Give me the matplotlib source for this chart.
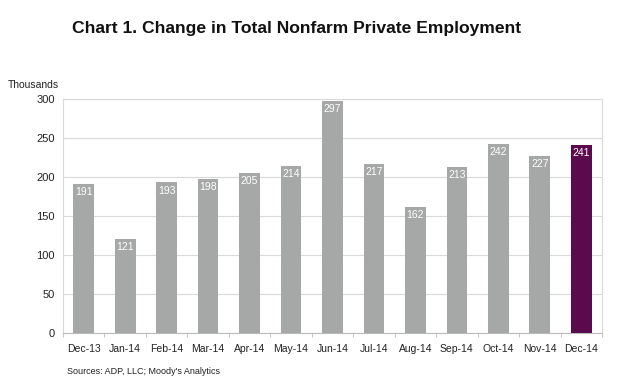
import matplotlib
matplotlib.use("Agg")
import matplotlib.pyplot as plt
import numpy as np

months = ["Dec-13", "Jan-14", "Feb-14", "Mar-14", "Apr-14", "May-14", "Jun-14",
          "Jul-14", "Aug-14", "Sep-14", "Oct-14", "Nov-14", "Dec-14"]
values = [191, 121, 193, 198, 205, 214, 297, 217, 162, 213, 242, 227, 241]
yticks = [0, 50, 100, 150, 200, 250, 300]

plt.rcParams['font.family'] = ['Liberation Sans', 'DejaVu Sans']

fig = plt.figure(figsize=(6.2, 3.88), dpi=100)
ax = fig.add_axes([63/620, 1-333/388, (602-63)/620, (333-99)/388])

colors = ['#A6A7A7'] * (len(values) - 1) + ['#5B0A4E']
x = np.arange(len(values))
bars = ax.bar(x, values, width=0.5, color=colors, zorder=3)
for xi, v in zip(x, values):
    ax.text(xi, v - 4, str(v), ha='center', va='top', color='white', fontsize=7.5, zorder=4)

ax.set_xlim(-0.5, len(values) - 0.5)
ax.set_ylim(0, 300)
ax.set_yticks(yticks)
ax.set_yticklabels([str(t) for t in yticks], fontsize=8, color='#222222')
ax.set_xticks(x)
ax.set_xticklabels(months, fontsize=7.5, color='#222222')
ax.tick_params(axis='x', length=0, pad=8)
ax.tick_params(axis='y', length=0, pad=6)
ax.set_xticks(np.arange(-0.5, len(values)), minor=True)
ax.tick_params(axis='x', which='minor', length=3, color='#BBBBBB', direction='out')
ax.grid(axis='y', color='#D9D9D9', linewidth=0.8, zorder=0)
for s in ax.spines.values():
    s.set_color('#D9D9D9')
    s.set_linewidth(0.8)
ax.spines['bottom'].set_color('#BBBBBB')

fig.text(297/620, 1-28/388, "Chart 1. Change in Total Nonfarm Private Employment",
         ha='center', va='center', fontsize=12.6, fontweight='bold', color='#111111')
fig.text(8/620, 1-85/388, "Thousands", ha='left', va='center', fontsize=7.5, color='#222222')
fig.text(67/620, 1-371/388, "Sources: ADP, LLC; Moody's Analytics", ha='left', va='center',
         fontsize=6.5, color='#222222')

fig.savefig("out.png", dpi=100)
